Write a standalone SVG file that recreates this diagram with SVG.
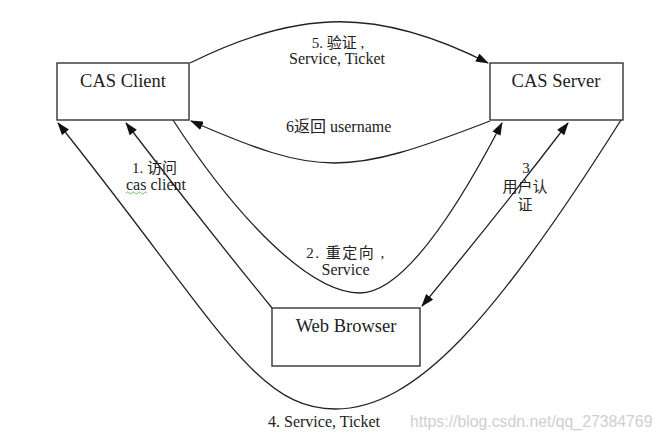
<svg xmlns="http://www.w3.org/2000/svg" width="662" height="440" viewBox="0 0 662 440">
<defs>
<marker id="ah" markerUnits="userSpaceOnUse" markerWidth="13" markerHeight="9" refX="12" refY="4.5" orient="auto-start-reverse">
<path d="M0,0 L13,4.5 L0,9 z" fill="#111"/>
</marker>
<style>
.box{fill:#fff;stroke:#333;stroke-width:1.4}
.nt{font-family:"Liberation Serif","Noto Sans CJK SC",serif;font-size:18.5px;fill:#222;text-anchor:middle}
.lb{font-family:"Liberation Serif","Noto Sans CJK SC",serif;font-size:16px;fill:#222}
.cj{font-family:"Liberation Serif","Noto Sans CJK SC",serif;font-size:15px;fill:#222}
.ln{fill:none;stroke:#222;stroke-width:1.3}
.ar{marker-end:url(#ah)}
</style>
</defs>
<rect width="662" height="440" fill="#fff"/>
<g id="connectors">
<path id="c5" class="ln ar" d="M190,63 C300,8 380,8 488,63"/>
<path id="c6" class="ln ar" d="M490,121 C345,177 320,177 191,121"/>
<path id="c2" class="ln ar" d="M173,120 C238,220 310,293 360,293 C400,293 450,223 502,123"/>
<path id="c1" class="ln ar" d="M272,308 Q197,216 126,123"/>
<path id="c3" class="ln ar" d="M422,306 Q500,212 568,123" marker-start="url(#ah)"/>
<path id="c4" class="ln ar" d="M621,120 C495,320 415,409 335,409 C255,409 218,323 58,123"/>
</g>
<g id="cas-client">
<rect class="box" x="57" y="63" width="132" height="57"/>
<text class="nt" x="123" y="87">CAS Client</text>
</g>
<g id="cas-server">
<rect class="box" x="490" y="63" width="133" height="57"/>
<text class="nt" x="556" y="87">CAS Server</text>
</g>
<g id="web-browser">
<rect class="box" x="272" y="308" width="148" height="58"/>
<text class="nt" x="346" y="332">Web Browser</text>
</g>
<g id="labels">
<text class="cj" x="338" y="48" text-anchor="middle">5. 验证 ,</text>
<text class="lb" x="337" y="64" text-anchor="middle">Service, Ticket</text>
<text class="lb" x="286" y="132">6返回 username</text>
<text class="cj" x="132" y="173">1. 访问</text>
<text class="lb" x="126" y="190">cas client</text>
<path d="M126,193 q1.5,-2 3,0 t3,0 t3,0 t3,0 t3,0 t3,0 t3,0" fill="none" stroke="#5a5" stroke-width="0.8"/>
<text class="cj" x="526" y="173" text-anchor="middle">3</text>
<text class="cj" x="525" y="192" text-anchor="middle">用户认</text>
<text class="cj" x="525" y="210" text-anchor="middle">证</text>
<text class="cj" x="346" y="258" text-anchor="middle" letter-spacing="1.5">2. 重定向 ,</text>
<text class="lb" x="345.5" y="275" text-anchor="middle">Service</text>
<text class="lb" x="268" y="427" font-size="19px">4. Service, Ticket</text>
<text x="410" y="427" font-family="'Liberation Sans',sans-serif" font-size="15.8px" fill="#cfcfcf">https://blog.csdn.net/qq_27384769</text>
</g>
</svg>
